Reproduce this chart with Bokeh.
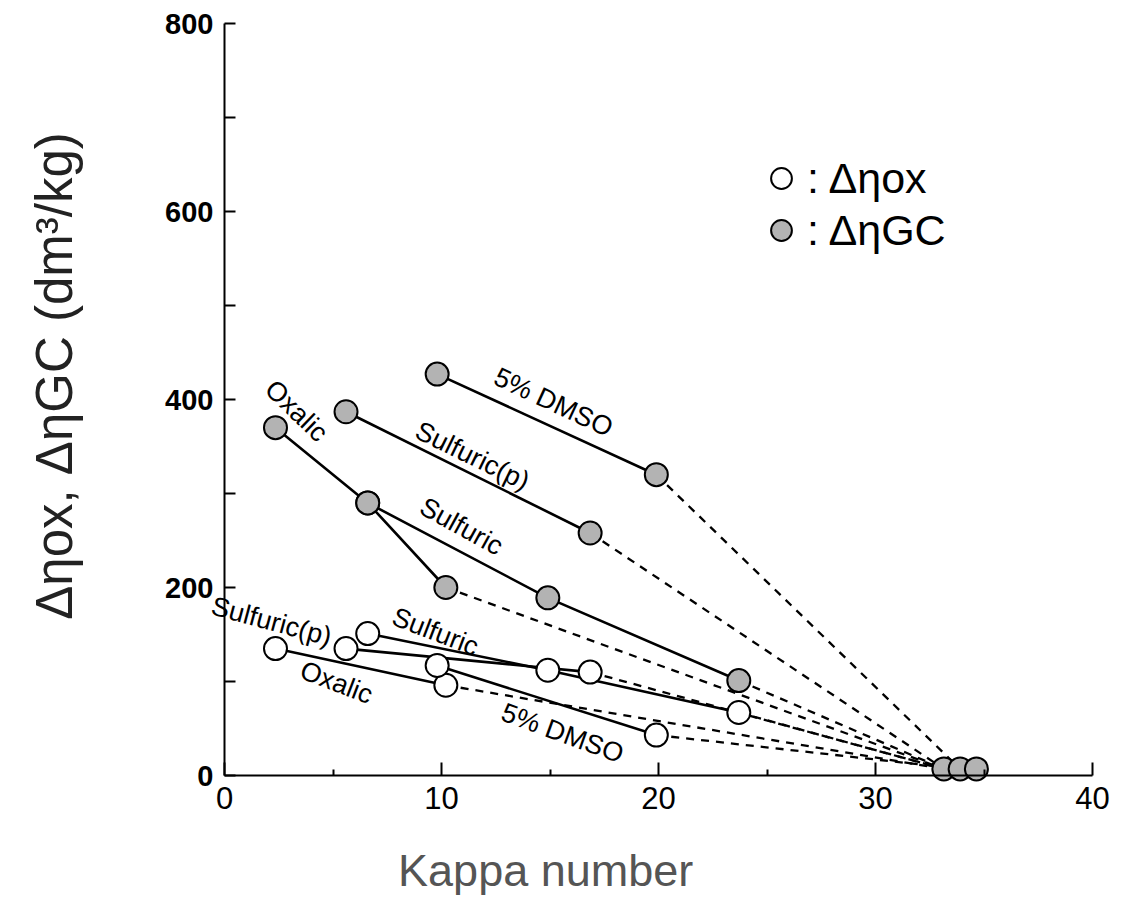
from bokeh.plotting import figure
from bokeh.models import Range1d, FixedTicker, Label, Legend, LegendItem, LinearAxis
from bokeh.embed import file_html
from bokeh.resources import INLINE

# ---- data ----
oxalic_kappa_gc = [2.35, 6.6, 10.2]
oxalic_gc = [370, 290, 200]
oxalic_kappa_ox = [2.35, 10.2]
oxalic_ox = [135, 96]

sulfuric_kappa = [6.6, 14.9, 23.7]
sulfuric_gc = [290, 189, 101]
sulfuric_ox = [151, 112, 67]

sulfuric_p_kappa = [5.6, 16.85]
sulfuric_p_gc = [387, 258]
sulfuric_p_ox = [135, 110]

dmso_kappa = [9.8, 19.9]
dmso_gc = [427, 320]
dmso_ox = [117, 43]

unbleached_kappa = [33.15, 33.9, 34.65]
unbleached_eta = [7, 7, 7]

x_ticks = [0, 10, 20, 30, 40]
x_minor = [5, 15, 25, 35]
y_ticks = [0, 200, 400, 600, 800]
y_minor = [100, 300, 500, 700]

FONT = "Liberation Sans"

# layout: the frame fills the whole canvas; the axes sit at fixed positions inside it
W, H = 1123, 912
X0_PX, X1_PX = 224, 1092     # pixel columns of kappa 0 and 40
Y0_PX, Y1_PX = 775, 23       # pixel rows of 0 and 800
sx = (X1_PX - X0_PX) / 40.0
sy = (Y0_PX - Y1_PX) / 800.0
x_range = Range1d(-X0_PX / sx, (W - X0_PX) / sx)
y_range = Range1d(-(H - Y0_PX) / sy, Y0_PX / sy)

p = figure(width=W, height=H, output_backend="svg", toolbar_location=None,
           x_range=x_range, y_range=y_range, x_axis_type=None, y_axis_type=None,
           min_border=0)
p.outline_line_color = None
p.background_fill_color = "white"
p.border_fill_color = "white"
p.xgrid.visible = False
p.ygrid.visible = False

xaxis = LinearAxis(fixed_location=0, bounds=(0, 40),
                   ticker=FixedTicker(ticks=x_ticks, minor_ticks=x_minor))
yaxis = LinearAxis(fixed_location=0, bounds=(0, 800),
                   ticker=FixedTicker(ticks=y_ticks, minor_ticks=y_minor))
for ax in (xaxis, yaxis):
    ax.axis_line_width = 2
    ax.axis_line_color = "black"
    ax.major_tick_line_width = 2
    ax.minor_tick_line_width = 2
    ax.major_tick_out = 0
    ax.minor_tick_out = 0
    ax.major_label_text_color = "black"
xaxis.major_tick_in = 13
xaxis.minor_tick_in = 6
yaxis.major_tick_in = 11
yaxis.minor_tick_in = 11
xaxis.major_label_text_font = FONT
xaxis.major_label_text_font_size = "31px"
xaxis.major_label_standoff = 11
yaxis.major_label_text_font = FONT
yaxis.major_label_text_font_size = "29px"
yaxis.major_label_text_font_style = "bold"
yaxis.major_label_standoff = 11
p.add_layout(xaxis, "below")
p.add_layout(yaxis, "left")

# ---- solid lines ----
solid = [
    (oxalic_kappa_gc, oxalic_gc), (oxalic_kappa_ox, oxalic_ox),
    (sulfuric_kappa, sulfuric_gc), (sulfuric_kappa, sulfuric_ox),
    (sulfuric_p_kappa, sulfuric_p_gc), (sulfuric_p_kappa, sulfuric_p_ox),
    (dmso_kappa, dmso_gc), (dmso_kappa, dmso_ox),
]
for xs, ys in solid:
    p.line(xs, ys, line_color="black", line_width=2.6)

# ---- dashed lines to the unbleached pulp ----
dashed = [
    (oxalic_kappa_gc[-1], oxalic_gc[-1], 0), (oxalic_kappa_ox[-1], oxalic_ox[-1], 0),
    (sulfuric_kappa[-1], sulfuric_gc[-1], 0), (sulfuric_kappa[-1], sulfuric_ox[-1], 0),
    (sulfuric_p_kappa[-1], sulfuric_p_gc[-1], 0), (sulfuric_p_kappa[-1], sulfuric_p_ox[-1], 0),
    (dmso_kappa[-1], dmso_gc[-1], 1), (dmso_kappa[-1], dmso_ox[-1], 1),
]
for x0, y0, i in dashed:
    p.line([x0, unbleached_kappa[i]], [y0, unbleached_eta[i]],
           line_color="black", line_width=2.3, line_dash="8 7")

# ---- markers ----
gc_x = oxalic_kappa_gc + sulfuric_kappa + sulfuric_p_kappa + dmso_kappa + unbleached_kappa
gc_y = oxalic_gc + sulfuric_gc + sulfuric_p_gc + dmso_gc + unbleached_eta
ox_x = oxalic_kappa_ox + sulfuric_kappa + sulfuric_p_kappa + dmso_kappa
ox_y = oxalic_ox + sulfuric_ox + sulfuric_p_ox + dmso_ox

r_ox = p.scatter(ox_x, ox_y, size=23, fill_color="white", line_color="black", line_width=2)
r_gc = p.scatter(gc_x, gc_y, size=23, fill_color="#b3b3b3", line_color="black", line_width=2)

legend = Legend(items=[LegendItem(label=": \u0394\u03b7ox", renderers=[r_ox]),
                       LegendItem(label=": \u0394\u03b7GC", renderers=[r_gc])],
                location=(755, H - 256), glyph_width=52, glyph_height=52, spacing=-4,
                label_standoff=0, padding=0, margin=0, border_line_color=None,
                background_fill_alpha=0, label_text_font=FONT, label_text_font_size="43px",
                label_text_color="black")
p.add_layout(legend)

# ---- series labels ----
def lab(x, y, text, ang):
    p.add_layout(Label(x=x, y=y, text=text, angle=ang, angle_units="deg",
                       text_align="center", text_baseline="middle",
                       text_font=FONT, text_font_size="27px", text_color="black"))

lab(3.32, 388, "Oxalic", -44)
lab(15.16, 397, "5% DMSO", -25)
lab(11.43, 340, "Sulfuric(p)", -26)
lab(10.92, 265, "Sulfuric", -29)
lab(2.17, 164, "Sulfuric(p)", -15)
lab(9.72, 153, "Sulfuric", -21)
lab(5.16, 99, "Oxalic", -21)
lab(15.58, 45, "5% DMSO", -20)

# ---- axis titles ----
p.add_layout(Label(x=14.8, y=-101, text="Kappa number", text_align="center",
                   text_baseline="middle", text_font=FONT, text_font_size="45px",
                   text_color="#555555"))
p.add_layout(Label(x=-7.85, y=425, text="\u0394\u03b7ox, \u0394\u03b7GC (dm\u00b3/kg)",
                   angle=90, angle_units="deg", text_align="center", text_baseline="middle",
                   text_font=FONT, text_font_size="51px", text_color="#222222"))

open("out.html", "w").write(file_html(p, INLINE))
